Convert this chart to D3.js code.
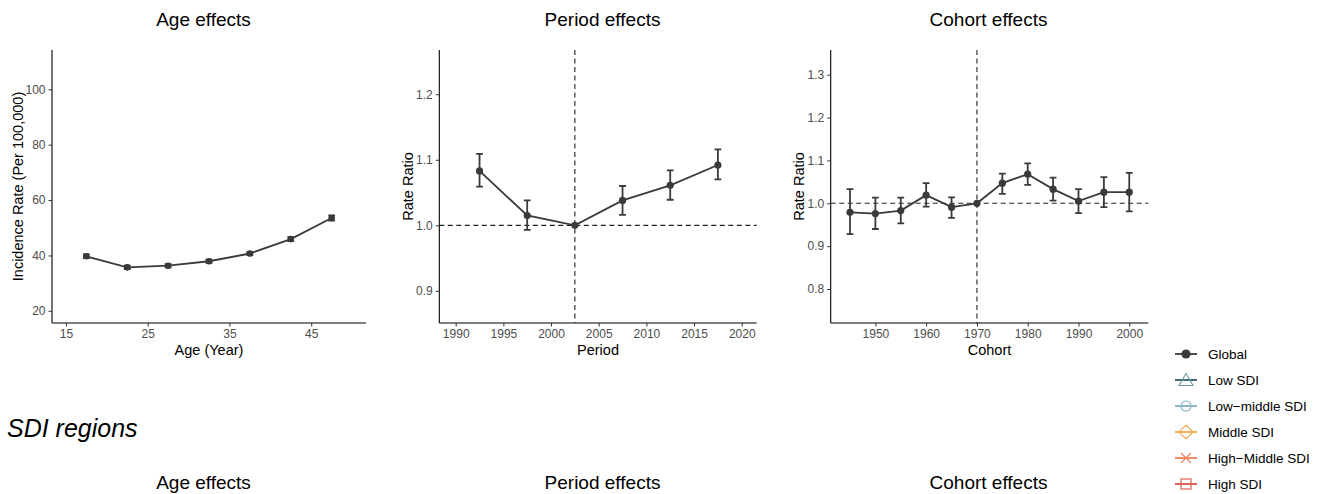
<!DOCTYPE html>
<html><head><meta charset="utf-8">
<script src="https://cdn.jsdelivr.net/npm/d3@7/dist/d3.min.js"></script>
<style>
body{margin:0;background:#fff;}
text{font-family:"Liberation Sans",Arial,Helvetica,sans-serif;}
</style></head>
<body>
<svg id="c" width="1322" height="494"></svg>
<script>
// ---- data ----
const ageX = [17.5, 22.5, 27.5, 32.5, 37.5, 42.5, 47.5];
const ageRate = [39.7, 35.7, 36.3, 37.9, 40.7, 45.9, 53.5];
const ageLo = [39.0, 35.1, 35.7, 37.3, 40.1, 45.2, 52.6];
const ageHi = [40.4, 36.3, 36.9, 38.5, 41.3, 46.6, 54.5];
const ageTicksX = [15, 25, 35, 45];
const ageTicksY = [20, 40, 60, 80, 100];

const periodX = [1992.5, 1997.5, 2002.5, 2007.5, 2012.5, 2017.5];
const periodRR = [1.083, 1.015, 1.000, 1.038, 1.061, 1.092];
const periodLo = [1.059, 0.993, 1.000, 1.016, 1.039, 1.070];
const periodHi = [1.109, 1.038, 1.000, 1.060, 1.084, 1.116];
const periodTicksX = [1990, 1995, 2000, 2005, 2010, 2015, 2020];
const periodTicksY = [0.9, 1.0, 1.1, 1.2];
const periodRef = 2002.5;

const cohortX = [1945, 1950, 1955, 1960, 1965, 1970, 1975, 1980, 1985, 1990, 1995, 2000];
const cohortRR = [0.979, 0.976, 0.983, 1.019, 0.991, 1.000, 1.047, 1.068, 1.033, 1.005, 1.026, 1.026];
const cohortLo = [0.928, 0.940, 0.953, 0.992, 0.966, 1.000, 1.022, 1.043, 1.006, 0.977, 0.991, 0.981];
const cohortHi = [1.033, 1.013, 1.013, 1.047, 1.014, 1.000, 1.069, 1.093, 1.060, 1.033, 1.061, 1.071];
const cohortTicksX = [1950, 1960, 1970, 1980, 1990, 2000];
const cohortTicksY = [0.8, 0.9, 1.0, 1.1, 1.2, 1.3];
const cohortRef = 1970;

const legendLabels = ["Global", "Low SDI", "Low\u2212middle SDI", "Middle SDI", "High\u2212Middle SDI", "High SDI"];
const legendLine = ["#3a3a3a", "#2f5d62", "#7fb2c6", "#f5a94a", "#ef7e5a", "#d9534a"];
const legendShape = ["#3a3a3a", "#6b9aa0", "#7fb2c6", "#f5a94a", "#ef7e5a", "#d9534a"];
const legendSymbols = ["circleFilled", "triangle", "circle", "diamond", "cross", "square"];

const titles = ["Age effects", "Period effects", "Cohort effects"];

// ---- drawing ----
const svg = d3.select("#c");
const dark = "#3a3a3a";

function panel(cfg){
  const x = d3.scaleLinear().domain(cfg.xd).range([cfg.x0, cfg.x1]);
  const y = d3.scaleLinear().domain(cfg.yd).range([cfg.y1, cfg.y0]);
  const g = svg.append("g");
  const ax = g.append("g").attr("transform", `translate(0,${cfg.y1})`)
    .call(d3.axisBottom(x).tickValues(cfg.tx).tickSize(3.5).tickPadding(3).tickFormat(cfg.fx));
  const ay = g.append("g").attr("transform", `translate(${cfg.x0},0)`)
    .call(d3.axisLeft(y).tickValues(cfg.ty).tickSize(3.5).tickPadding(3).tickFormat(cfg.fy));
  [ax, ay].forEach(a => {
    a.attr("font-family", null).attr("font-size", null);
    a.select(".domain").attr("stroke", "#000").attr("stroke-width", 1.1);
    a.selectAll(".tick line").attr("stroke", "#333");
    a.selectAll(".tick text").attr("fill", null).style("fill", "#4d4d4d").style("font-size", "12px")
      .style("font-family", '"Liberation Sans",Arial,sans-serif');
  });
  ax.select(".domain").attr("d", `M${cfg.x0},0H${cfg.x1}`);
  ay.select(".domain").attr("d", `M0,${cfg.y0}V${cfg.y1}`);
  if (cfg.ref !== undefined){
    g.append("line").attr("x1", cfg.x0).attr("x2", cfg.x1).attr("y1", y(1)).attr("y2", y(1))
      .attr("stroke", "#222").attr("stroke-width", 1.1).attr("stroke-dasharray", "5,3.5");
    g.append("line").attr("x1", x(cfg.ref)).attr("x2", x(cfg.ref)).attr("y1", cfg.y0).attr("y2", cfg.y1)
      .attr("stroke", "#222").attr("stroke-width", 1.1).attr("stroke-dasharray", "5,3.5");
  }
  const pts = cfg.xs.map((v, i) => ({x: v, y: cfg.ys[i], lo: cfg.lo[i], hi: cfg.hi[i]}));
  pts.filter(d => d.hi > d.lo).forEach(d => {
    const px = x(d.x);
    g.append("path").attr("d", `M${px-3.4},${y(d.hi)}H${px+3.4}M${px},${y(d.hi)}V${y(d.lo)}M${px-3.4},${y(d.lo)}H${px+3.4}`)
      .attr("stroke", dark).attr("stroke-width", 1.8).attr("fill", "none");
  });
  g.append("path").datum(pts).attr("d", d3.line().x(d => x(d.x)).y(d => y(d.y)))
    .attr("fill", "none").attr("stroke", dark).attr("stroke-width", 1.8);
  g.selectAll("circle.p").data(pts).enter().append("circle")
    .attr("cx", d => x(d.x)).attr("cy", d => y(d.y)).attr("r", cfg.r || 3.6).attr("fill", dark);
  const cx = (cfg.x0 + cfg.x1) / 2;
  svg.append("text").attr("x", cfg.tcx).attr("y", 26).attr("text-anchor", "middle")
    .style("font-size", "19px").attr("fill", "#000").text(cfg.title);
  svg.append("text").attr("x", cx).attr("y", 355).attr("text-anchor", "middle")
    .style("font-size", "14.5px").attr("fill", "#000").text(cfg.xl);
  const ym = (cfg.y0 + cfg.y1) / 2;
  svg.append("text").attr("transform", `translate(${cfg.ylx},${ym}) rotate(-90)`).attr("text-anchor", "middle")
    .style("font-size", "14.5px").attr("fill", "#000").text(cfg.yl);
  svg.append("text").attr("x", cfg.tcx).attr("y", 489).attr("text-anchor", "middle")
    .style("font-size", "19px").attr("fill", "#000").text(cfg.title);
}

panel({x0: 52, x1: 366, y0: 50, y1: 323, xd: [13.3, 51.7], yd: [15.6, 114.2],
  tx: ageTicksX, ty: ageTicksY, fx: d3.format("d"), fy: d3.format("d"),
  xs: ageX, ys: ageRate, lo: ageLo, hi: ageHi, title: titles[0], tcx: 203.5,
  xl: "Age (Year)", yl: "Incidence Rate (Per 100,000)", ylx: 23, r: 3.3});

panel({x0: 439.3, x1: 756.7, y0: 50, y1: 323, xd: [1988.28, 2021.57], yd: [0.851, 1.2675],
  tx: periodTicksX, ty: periodTicksY, fx: d3.format("d"), fy: d3.format(".1f"),
  xs: periodX, ys: periodRR, lo: periodLo, hi: periodHi, title: titles[1], ref: periodRef, tcx: 602.5,
  xl: "Period", yl: "Rate Ratio", ylx: 413});

panel({x0: 830.7, x1: 1148.3, y0: 50, y1: 323, xd: [1941.2, 2003.75], yd: [0.7207, 1.3576],
  tx: cohortTicksX, ty: cohortTicksY, fx: d3.format("d"), fy: d3.format(".1f"),
  xs: cohortX, ys: cohortRR, lo: cohortLo, hi: cohortHi, title: titles[2], ref: cohortRef, tcx: 988.5,
  xl: "Cohort", yl: "Rate Ratio", ylx: 804});

svg.append("text").attr("x", 7).attr("y", 437).style("font-size", "25px").style("font-style", "italic")
  .attr("fill", "#000").text("SDI regions");

const lg = svg.append("g");
legendLabels.forEach((lab, i) => {
  const cy = 354 + i * 26, cx = 1186;
  const row = lg.append("g");
  row.append("line").attr("x1", 1175).attr("x2", 1197).attr("y1", cy).attr("y2", cy)
    .attr("stroke", legendLine[i]).attr("stroke-width", 1.8);
  const s = legendSymbols[i], col = legendShape[i];
  if (s === "circleFilled") row.append("circle").attr("cx", cx).attr("cy", cy).attr("r", 4.6).attr("fill", col);
  else if (s === "circle") row.append("circle").attr("cx", cx).attr("cy", cy).attr("r", 5).attr("fill", "none").attr("stroke", col).attr("stroke-width", 1.1);
  else if (s === "triangle") row.append("path").attr("d", `M${cx},${cy-6.5}L${cx+7},${cy+5.5}L${cx-7},${cy+5.5}Z`).attr("fill", "none").attr("stroke", col).attr("stroke-width", 1.1);
  else if (s === "diamond") row.append("path").attr("d", `M${cx},${cy-7}L${cx+7},${cy}L${cx},${cy+7}L${cx-7},${cy}Z`).attr("fill", "none").attr("stroke", col).attr("stroke-width", 1.1);
  else if (s === "cross") row.append("path").attr("d", `M${cx-5},${cy-5}L${cx+5},${cy+5}M${cx-5},${cy+5}L${cx+5},${cy-5}`).attr("fill", "none").attr("stroke", col).attr("stroke-width", 1.1);
  else if (s === "square") row.append("rect").attr("x", cx-5).attr("y", cy-5).attr("width", 10).attr("height", 10).attr("fill", "none").attr("stroke", col).attr("stroke-width", 1.1);
  row.append("text").attr("x", 1208).attr("y", cy + 4.8).style("font-size", "13.5px").attr("fill", "#000").text(lab);
});
</script>
</body></html>
